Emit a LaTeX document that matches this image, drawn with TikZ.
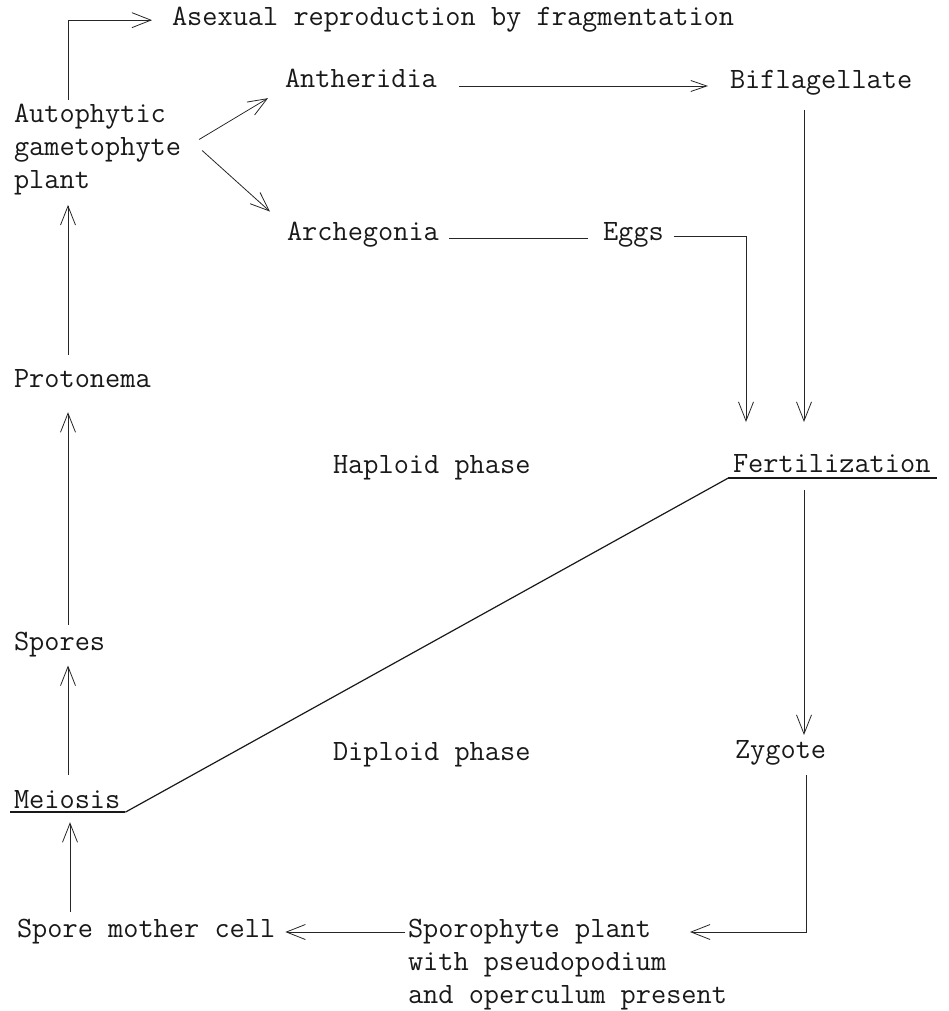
\documentclass[tikz,border=0pt]{standalone}
\usepackage{fontspec}
\usetikzlibrary{arrows.meta,calc}
\begin{document}
\begin{tikzpicture}[x=1pt,y=1pt,
  txt/.style={inner sep=0pt,outer sep=0pt,anchor=base west,text=black!90,
    font=\ttfamily\fontsize{29.5}{33}\selectfont},
  blocktxt/.style={txt,anchor=north west,align=left},
  conn/.style={draw=black!85,line width=0.8pt},
  arr/.style={conn,-{Straight Barb[length=19pt,width=15pt]}},
  uline/.style={draw=black!90,line width=1.4pt}]
\useasboundingbox (0,0) rectangle (948,-1011);

% haploid generation
\node[txt] (asexual) at (172,-26) {Asexual reproduction by fragmentation};
\node[blocktxt] (auto) at (14,-104) {Autophytic\\gametophyte\\plant};
\node[txt] (anth) at (285,-88) {Antheridia};
\node[txt] (bifl) at (730,-89) {Biflagellate};
\node[txt] (arch) at (287,-240) {Archegonia};
\node[txt] (eggs) at (603,-240) {Eggs};
\node[txt] (proto) at (14,-387) {Protonema};
\node[txt] (hap) at (333,-473) {Haploid phase};
\node[txt] (fert) at (733,-472) {Fertilization};
\node[txt] (spores) at (14,-650) {Spores};

% diploid generation
\node[txt] (dip) at (333,-760) {Diploid phase};
\node[txt] (zyg) at (735,-758) {Zygote};
\node[txt] (meio) at (14,-808) {Meiosis};
\node[txt] (smc) at (17,-937) {Spore mother cell};
\node[blocktxt] (sporo) at (408,-919) {Sporophyte plant\\with pseudopodium\\and operculum present};

% gametophyte branches
\draw[arr,shorten <=4pt,shorten >=20pt] ($(auto.north west)+(54,0)$) |- (asexual.west);
\draw[arr] ($(auto.east)+(18,10)$) -- ($(anth.south west)+(-17,-10)$);
\draw[arr] ($(auto.east)+(21,-1)$) -- ($(arch.north west)+(-17,10)$);
\draw[arr,-{Straight Barb[length=16pt,width=11pt]}] ($(anth.base east)+(22,2)$) -- ($(bifl.base west)+(-22,3)$);
\draw[conn] ($(arch.base east)+(10,2)$) -- ($(eggs.base west)+(-15,2)$);

% gametes meet
\draw[arr] ($(eggs.base east)+(10,4)$) -| ($(fert.north west)+(13,32)$);
\draw[arr] ($(bifl.south west)+(74,-14)$) -- ($(fert.north west)+(71,32)$);

% phase boundary
\draw[draw=black!90,line width=2.2pt] ($(fert.south west)+(-5,-6)$) -- ($(fert.south east)+(6,-6)$);
\draw[uline,line width=1.2pt] ($(fert.south west)+(-5,-6)$) -- ($(meio.south east)+(5,-4)$);
\draw[uline,line width=1.8pt] ($(meio.south east)+(5,-4)$) -- ($(meio.south west)+(-4,-4)$);

% diploid cycle
\draw[arr] ($(fert.south west)+(71,-18)$) -- ($(zyg.north west)+(69,5)$);
\draw[arr] ($(zyg.south west)+(71,-10)$) |- ($(sporo.north west)+(282,-13)$);
\draw[arr] ($(sporo.north west)+(-3,-13)$) -- ($(smc.base east)+(10,5)$);
\draw[arr] ($(smc.north west)+(53,7)$) -- ($(meio.south west)+(56,-14)$);
\draw[arr] ($(meio.north west)+(54,15)$) -- ($(spores.south west)+(54,-9)$);
\draw[arr] ($(spores.north west)+(54,7)$) -- ($(proto.south west)+(54,-25)$);
\draw[arr] ($(proto.north west)+(54,14)$) -- ($(auto.south west)+(54,-10)$);
\end{tikzpicture}
\end{document}
